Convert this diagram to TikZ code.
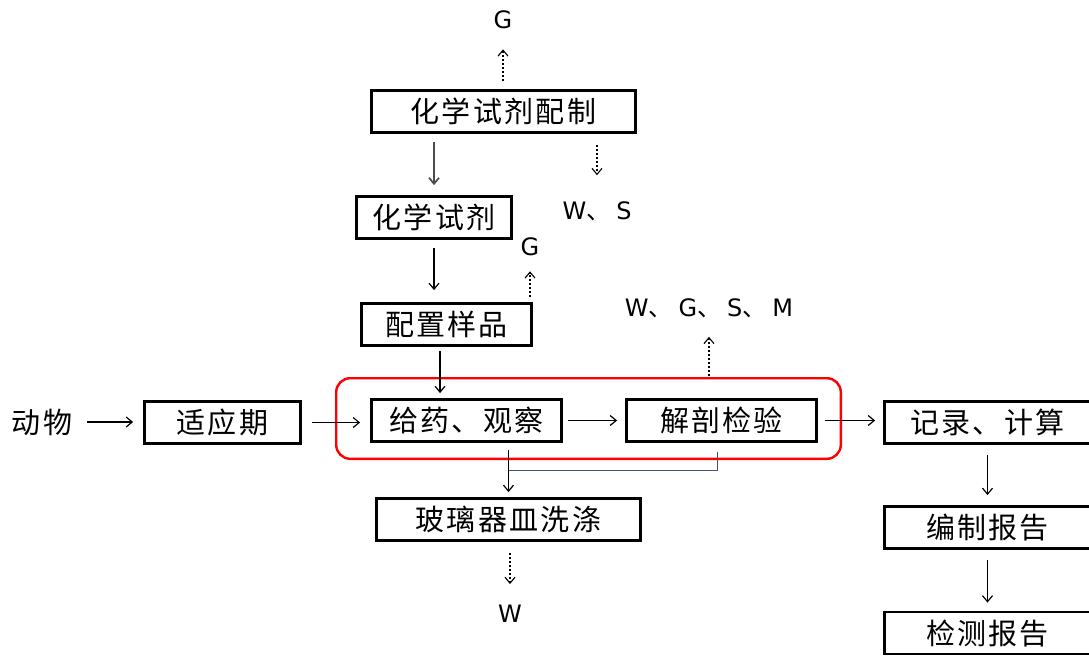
\documentclass[tikz,border=0pt]{standalone}
\usepackage{fontspec}
\setmainfont{Noto Sans CJK SC}[LetterSpace=8]
\newfontfamily\latinfont{DejaVu Sans}
\usetikzlibrary{arrows.meta,positioning}
\definecolor{slate}{RGB}{68,84,106}
\newcommand{\lt}[1]{{\latinfont #1}}

\begin{document}
\begin{tikzpicture}[x=1pt, y=-1pt, >={Straight Barb[length=6pt,width=10pt]},
        every node/.style={font=\fontsize{29}{32}\selectfont},
        stepbox/.style={draw, line width=2.8pt, minimum height=42pt, inner sep=0pt},
        tag/.style={font=\fontsize{24}{26}\selectfont, inner sep=0pt},
        flow/.style={->, line width=1.2pt},
        waste/.style={->, line width=1.1pt, dash pattern=on 2.5pt off 1.5pt}]
        % Page frame (same size as the reference)
        \useasboundingbox (0,0) rectangle (1089,656);

        % Reagent branch
        \node[stepbox, minimum width=264pt] (pz) at (503.5,111.5) {化学试剂配制};
        \node[stepbox, minimum width=155pt] (sj) at (434,217.5) {化学试剂};
        \node[stepbox, minimum width=170pt] (yp) at (446.5,324.5) {配置样品};

        % Main line
        \node (dw) at (42,422) {动物};
        \node[stepbox, minimum width=156pt] (syq) at (222.5,422.5) {适应期};
        \node[stepbox, minimum width=190pt] (gy) at (466.5,420.5) {给药、观察};
        \node[stepbox, minimum width=190pt] (jp) at (721.5,420.5) {解剖检验};
        \node[stepbox, minimum width=264pt] (bl) at (508.5,519.5) {玻璃器皿洗涤};

        % Red frame round the test steps
        \node[draw=red, line width=2.4pt, rounded corners=14pt, inner sep=0pt,
              minimum width=504.6pt, minimum height=80.6pt] (grp) at (588.5,418.5) {};

        % Report column on the right
        \foreach \n/\y/\t in {jl/422.5/记录、计算, bz/527.5/编制报告, jc/633/检测报告} {
            \node[stepbox, minimum width=206pt] (\n) at (987.5,\y) {\t};
        }

        % Emission labels
        \node[tag] (g1) at (503,20) {\lt{G}};
        \node[tag] (ws) at (597,211) {\lt{W}、\hspace{.25em}\lt{S}};
        \node[tag] (g2) at (530,247) {\lt{G}};
        \node[tag] (wgsm) at (709,308) {\lt{W}、\hspace{.25em}\lt{G}、\hspace{.25em}\lt{S}、\hspace{.25em}\lt{M}};
        \node[tag] (w1) at (510,614) {\lt{W}};

        % Solid flow arrows
        \draw[flow, line width=1.7pt, black!70, shorten <=8pt, shorten >=10pt] (pz.south -| sj.north) -- (sj.north);
        \draw[flow, shorten <=8pt, shorten >=12pt] (sj.south) -- (sj.south |- yp.north);
        \coordinate (ypout) at ([xshift=-6.5pt]yp.south);
        \draw[flow, shorten <=4pt, shorten >=5pt] (ypout) -- (ypout |- gy.north);
        \draw[flow, shorten <=11pt, shorten >=10pt] (dw.east) -- (dw.east -| syq.west);
        \draw[flow, shorten <=10pt, shorten >=10pt] (syq.east) -- (syq.east -| gy.west);
        \draw[flow, shorten <=5pt, shorten >=8pt] (gy.east) -- (jp.west);
        \draw[flow, shorten <=7pt, shorten >=8pt] (jp.east) -- (jp.east -| jl.west);
        \draw[flow, shorten <=10pt, shorten >=10pt] (jl.south) -- (bz.north);
        \draw[flow, shorten <=10pt, shorten >=8pt] (bz.south) -- (jc.north);

        % Glassware washing fed from both test steps
        \coordinate (mg) at (509,470);
        \draw[flow, shorten <=7pt, shorten >=5pt] (gy.south -| bl.north) -- (bl.north);
        \draw[slate, line width=1pt] ([xshift=-4.5pt]jp.south) ++(0,9) |- (mg);

        % Dashed emission arrows
        \draw[waste, shorten <=8pt, shorten >=20pt] (pz.north -| g1) -- (g1);
        \draw[waste, shorten <=11pt, shorten >=26pt] (pz.south -| ws) -- (ws);
        \draw[waste, shorten <=5pt, shorten >=15pt] (yp.north -| g2) -- (g2);
        \draw[waste, shorten <=1pt, shorten >=19pt] (grp.north -| wgsm) -- (wgsm);
        \draw[waste, shorten <=11pt, shorten >=21pt] (bl.south -| w1) -- (w1);
    \end{tikzpicture}
\end{document}
